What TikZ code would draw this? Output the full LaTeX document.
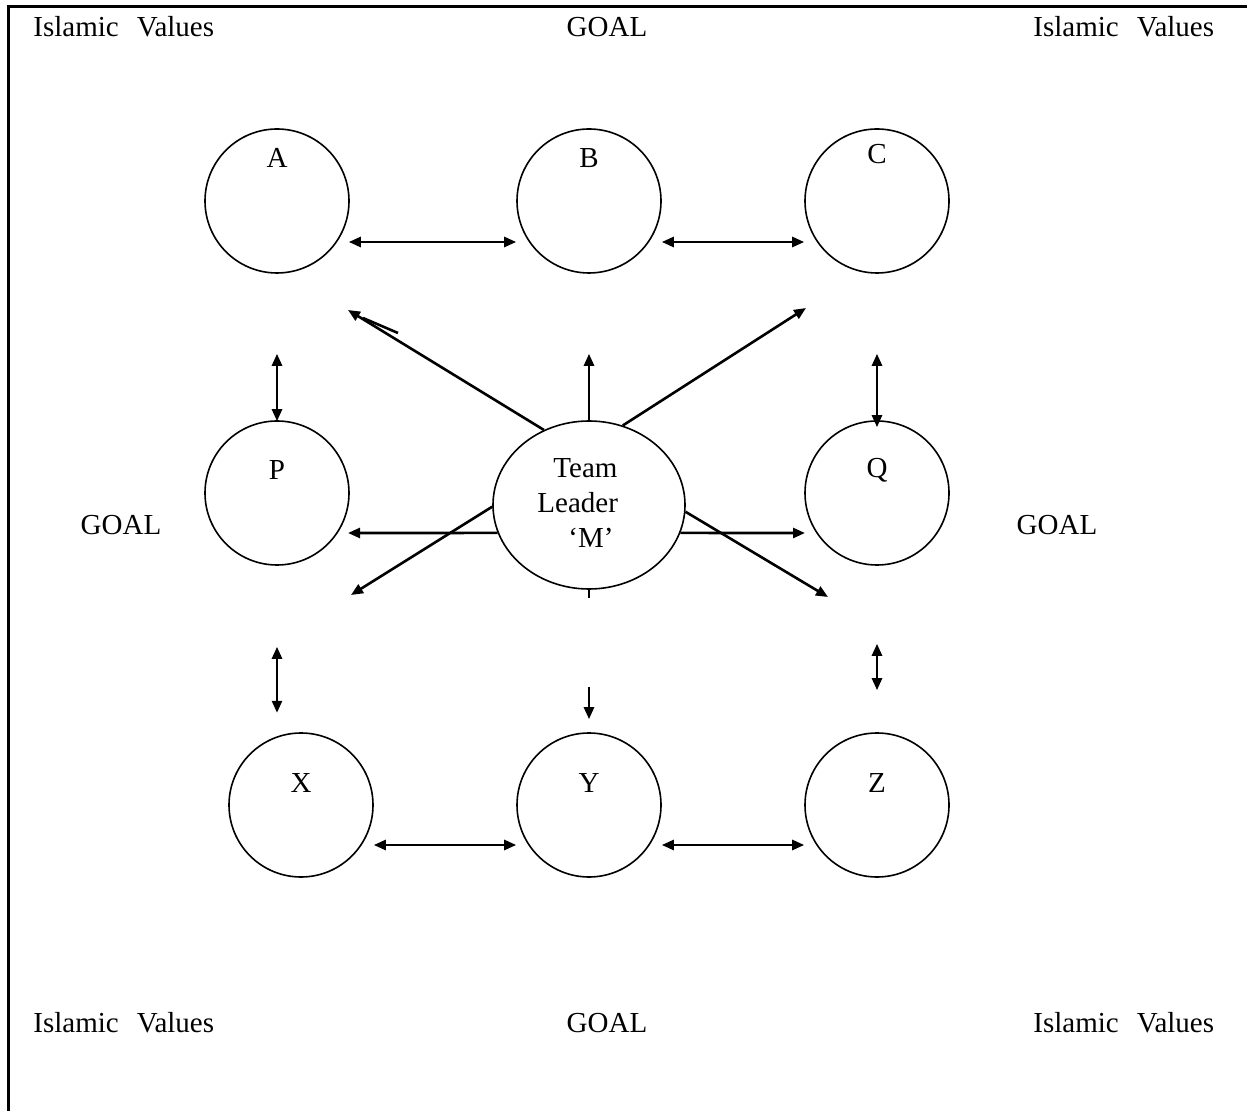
\documentclass[tikz,border=0pt]{standalone}
\usepackage{fontspec}
\setmainfont{Liberation Serif}
\usetikzlibrary{arrows.meta,calc,shapes.geometric}
\begin{document}
\begin{tikzpicture}[x=0.5pt,y=-0.5pt,
  font=\fontsize{14.5}{17.5}\selectfont,
  circ/.style={draw,circle,line width=0.8pt,minimum size=72pt,inner sep=0pt},
  oval/.style={draw,ellipse,line width=0.8pt,minimum width=96pt,minimum height=84pt,inner sep=0pt},
  tip/.tip={Triangle[length=6pt,width=5pt]},
  arr/.style={line width=1.3pt,-tip},
  dbl/.style={line width=1.3pt,tip-tip},
  plain/.style={line width=1.3pt},
  txt/.style={inner sep=0pt},
  frame/.style={line width=1.5pt}]
\useasboundingbox (0,0) rectangle (1247,1111);
% frame
\coordinate (fb) at (8,1111);
\coordinate (ftl) at (8,7);
\coordinate (fr) at (1247,7);
\draw[frame] (fb) -- (ftl) -- (fr);
% corner and side texts
\node[txt,anchor=base west] (ivtl) at (33,37) {Islamic\hspace{9pt}Values};
\node[txt,anchor=base west] (ivtr) at (1033,37) {Islamic\hspace{9pt}Values};
\node[txt,anchor=base west] (ivbl) at (33,1032) {Islamic\hspace{9pt}Values};
\node[txt,anchor=base west] (ivbr) at (1033,1032) {Islamic\hspace{9pt}Values};
\node[txt,anchor=base] (gtop) at (607,37) {GOAL};
\node[txt,anchor=base] (gbot) at (607,1032) {GOAL};
\node[txt,anchor=base] (gleft) at (121,535) {GOAL};
\node[txt,anchor=base] (gright) at (1057,535) {GOAL};
% circles
\node[circ,label={[yshift=21.5pt]center:A}] (A) at (277,201) {};
\node[circ,label={[yshift=21.5pt]center:B}] (B) at (589,201) {};
\node[circ,label={[yshift=23.5pt]center:C}] (C) at (877,201) {};
\node[circ,label={[yshift=11.5pt]center:P}] (P) at (277,493) {};
\node[circ,label={[yshift=11.5pt]center:Q}] (Q) at (877,493) {};
\node[circ,label={[yshift=11pt]center:X}] (X) at (301,805) {};
\node[circ,label={[yshift=11pt]center:Y}] (Y) at (589,805) {};
\node[circ,label={[yshift=11pt]center:Z}] (Z) at (877,805) {};
% team leader
\node[oval] (M) at (589,505) {};
\node[txt,anchor=west,align=left] (Mtxt) at (537,503) {\hspace*{8pt}Team\\Leader\\\hspace*{15.5pt}‘M’};
% horizontal links
\draw[dbl] ($(A.east)+(-1,41)$) -- ($(B.west)+(0,41)$);
\draw[dbl] ($(B.east)+(0,41)$) -- ($(C.west)+(0,41)$);
\draw[dbl] ($(X.east)+(0,40)$) -- ($(Y.west)+(0,40)$);
\draw[dbl] ($(Y.east)+(0,40)$) -- ($(Z.west)+(0,40)$);
% vertical links
\draw[dbl] ($(A.south)+(0,80)$) -- ($(P.north)+(0,1)$);
\draw[dbl] ($(C.south)+(0,80)$) -- ($(Q.north)+(0,7)$);
\draw[dbl] ($(P.south)+(0,81)$) -- ($(P.south)+(0,147)$);
\draw[dbl] ($(Q.south)+(0,78)$) -- ($(Z.north)+(0,-42)$);
% leader arrows
\draw[arr] (M.121) -- ($(A.center)+(71,109)$);
\draw[plain] ($(A.center)+(86,117)$) -- ($(A.center)+(121,132)$);
\draw[arr] (M.north) -- ($(B.south)+(0,80)$);
\draw[arr] (M.67) -- ($(C.center)+(-71,107)$);
\draw[arr] (M.197) -- ($(P.center)+(71,40)$);
\draw[arr] (M.-17) -- ($(Q.center)+(-72,40)$);
\draw[arr] (M.181) -- ($(P.center)+(74,102)$);
\draw[arr] (M.-4) -- ($(Q.center)+(-49,104)$);
\draw[plain] (M.south) -- ++(0,8);
\draw[arr] ($(Y.north)+(0,-45)$) -- ($(Y.north)+(0,-13)$);
\end{tikzpicture}
\end{document}
